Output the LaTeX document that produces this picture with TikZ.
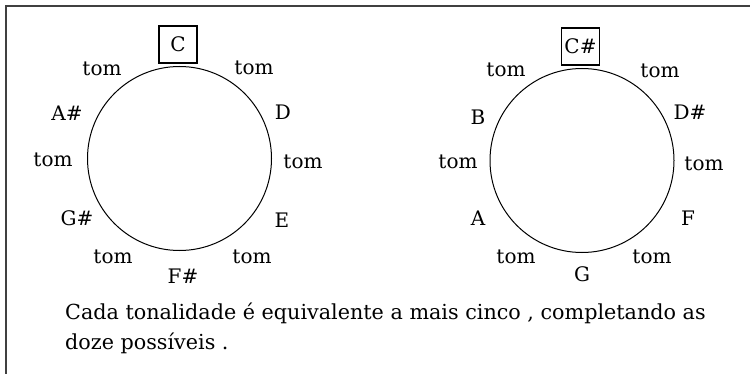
\documentclass[tikz,border=0pt]{standalone}
\usepackage{fontspec}
\setmainfont{DejaVu Serif}
\begin{document}
\begin{tikzpicture}[x=1pt,y=1pt,
  lbl/.style={font=\fontsize{20}{22}\selectfont, inner sep=0pt},
  keybox/.style={draw, line width=1.3pt, minimum width=38pt, minimum height=37pt, inner sep=0pt, font=\fontsize{20}{22}\selectfont},
  ring/.style={draw, line width=1pt},
  txt/.style={font=\fontsize{20.7}{30}\selectfont, inner sep=0pt, anchor=base west}]
\useasboundingbox (0,0) rectangle (750,373);
\fill[white] (0,0) rectangle (750,373);
% frame
\draw[line width=2pt, black!75] (6,-5) -- (6,367) -- (755,367);
% left circle
\node[ring, circle, minimum size=184pt, inner sep=0pt] (c1) at (179.5,214.5) {};
\node[keybox] (k1) at (178,328.5) {C};
\node[lbl] (l1) at (102,304) {tom};
\node[lbl] (l2) at (254,305) {tom};
\node[lbl] (l3) at (67,260) {A\#};
\node[lbl] (l4) at (283,261) {D};
\node[lbl] (l5) at (53,213) {tom};
\node[lbl] (l6) at (303,211) {tom};
\node[lbl] (l7) at (77,155) {G\#};
\node[lbl] (l8) at (282,153) {E};
\node[lbl] (l9) at (113,116) {tom};
\node[lbl] (l10) at (252,116) {tom};
\node[lbl] (l11) at (183,97) {F\#};
% right circle
\node[ring, circle, minimum size=184pt, inner sep=0pt] (c2) at (582,212.5) {};
\node[keybox] (k2) at (580.5,326.5) {C\#};
\node[lbl] (r1) at (506,303) {tom};
\node[lbl] (r2) at (660,302) {tom};
\node[lbl] (r3) at (478,256) {B};
\node[lbl] (r4) at (690,261) {D\#};
\node[lbl] (r5) at (458,211) {tom};
\node[lbl] (r6) at (704,209) {tom};
\node[lbl] (r7) at (478,155) {A};
\node[lbl] (r8) at (688,155) {F};
\node[lbl] (r9) at (516,116) {tom};
\node[lbl] (r10) at (652,116) {tom};
\node[lbl] (r11) at (582,99) {G};
% caption
\node[txt] (t1) at (65,54) {Cada tonalidade é equivalente a mais cinco , completando as};
\node[txt] (t2) at (65,24) {doze possíveis .};
\end{tikzpicture}
\end{document}
